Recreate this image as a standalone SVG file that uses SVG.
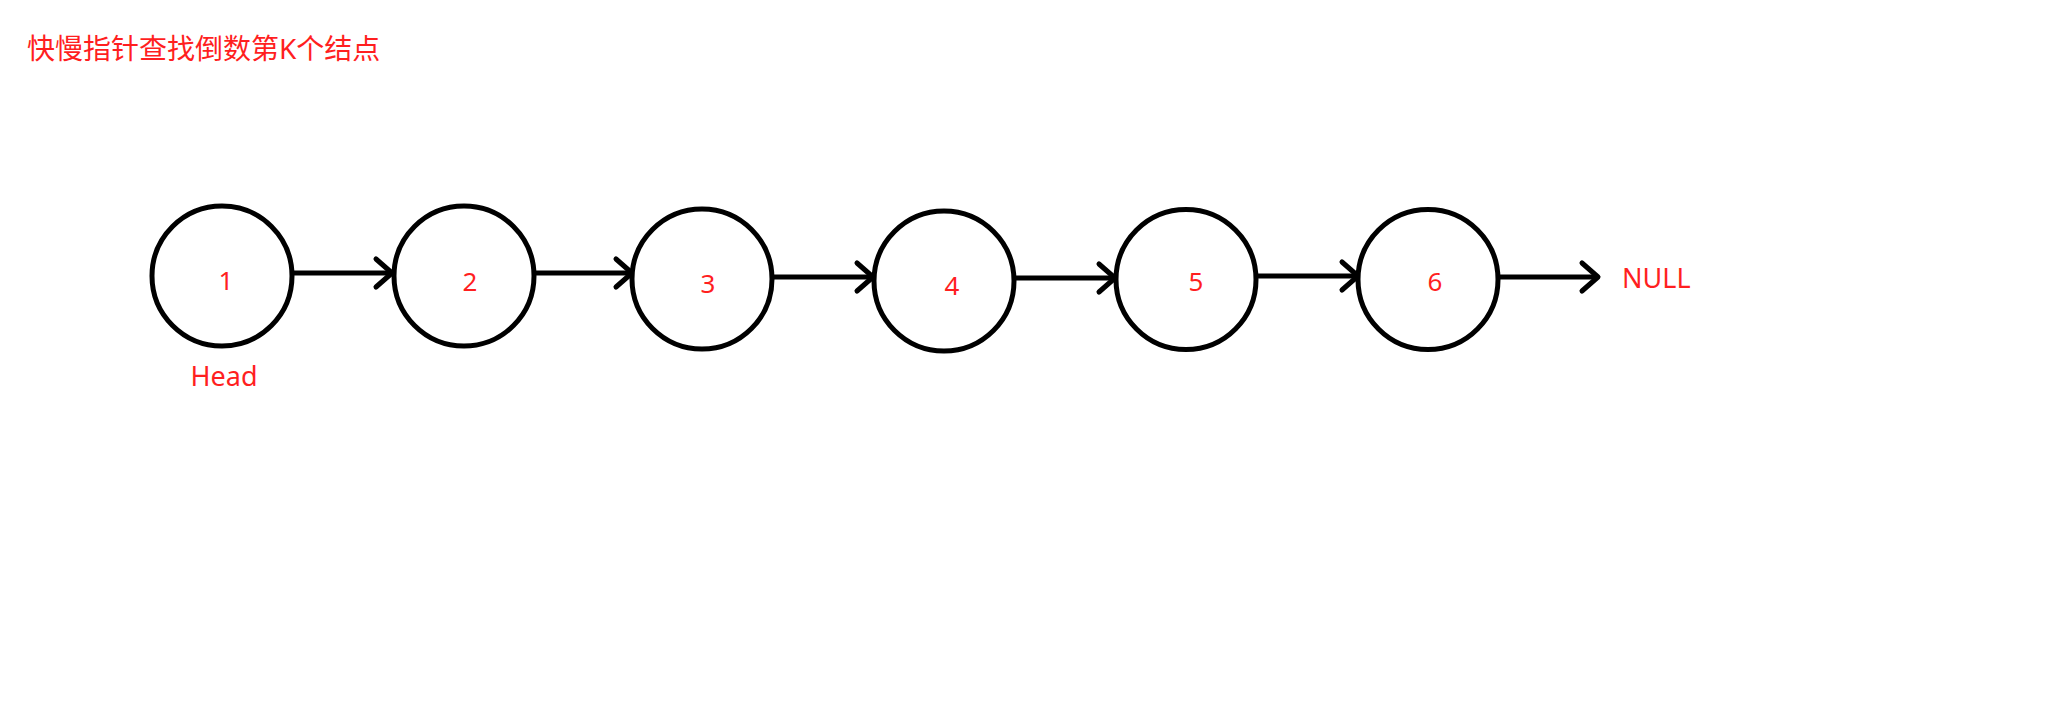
<svg xmlns="http://www.w3.org/2000/svg" width="2061" height="726" viewBox="0 0 2061 726">
<style>
.node{fill:#ffffff;stroke:#000000;stroke-width:5}
.lbl{fill:#ff1f1f;font-family:"Noto Sans","Open Sans","Liberation Sans",sans-serif;font-size:26px;text-anchor:middle}
.title{fill:#ff1f1f;font-family:"Noto Sans","Noto Sans CJK SC",sans-serif;font-size:28px}
.edge{stroke:#000000;stroke-width:5;fill:none;marker-end:url(#arr)}
</style>
<defs>
<marker id="arr" markerUnits="userSpaceOnUse" markerWidth="40" markerHeight="40" viewBox="-20 -20 40 40" refX="0" refY="0" orient="auto" overflow="visible">
<path d="M -16 -14 L 0 0 L -16 14" fill="none" stroke="#000000" stroke-width="5" stroke-linecap="round" stroke-linejoin="round"/>
</marker>
</defs>
<rect width="2061" height="726" fill="#ffffff"/>
<text class="title" x="27" y="59">快慢指针查找倒数第K个结点</text>
<g id="connectors">
<line class="edge" x1="293" y1="273" x2="392" y2="273"/>
<line class="edge" x1="535" y1="273" x2="632" y2="273"/>
<line class="edge" x1="773" y1="277" x2="873" y2="277"/>
<line class="edge" x1="1015" y1="278" x2="1115" y2="278"/>
<line class="edge" x1="1257" y1="276" x2="1358" y2="276"/>
<line class="edge" x1="1499" y1="277" x2="1598" y2="277"/>
</g>
<g id="node1"><circle class="node" cx="222" cy="276" r="70"/><text class="lbl" x="226" y="290">1</text></g>
<g id="node2"><circle class="node" cx="464" cy="276" r="70"/><text class="lbl" x="470" y="291">2</text></g>
<g id="node3"><circle class="node" cx="702" cy="279" r="70"/><text class="lbl" x="708" y="293">3</text></g>
<g id="node4"><circle class="node" cx="944" cy="281" r="70"/><text class="lbl" x="952" y="295">4</text></g>
<g id="node5"><circle class="node" cx="1186" cy="279.5" r="70"/><text class="lbl" x="1196" y="291">5</text></g>
<g id="node6"><circle class="node" cx="1428" cy="279.5" r="70"/><text class="lbl" x="1435" y="291">6</text></g>
<g id="head"><text class="lbl" x="224" y="386" style="font-size:27px">Head</text></g>
<g id="null"><text class="lbl" x="1622" y="288" style="font-size:27px;text-anchor:start">NULL</text></g>
</svg>
